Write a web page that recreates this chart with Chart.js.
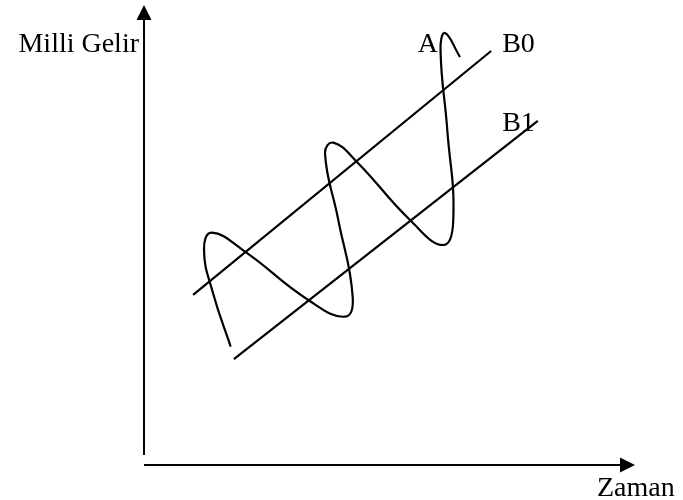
<!DOCTYPE html>
<html>
<head>
<meta charset="utf-8">
<script src="https://cdn.jsdelivr.net/npm/chart.js@4/dist/chart.umd.min.js"></script>
<style>
    html, body { margin: 0; padding: 0; background: #fff; }
    #wrap { width: 683px; height: 500px; position: relative; }
</style>
</head>
<body>
<div id="wrap"><canvas id="cycleChart"></canvas></div>
<script>
// Axis titles and series names
const yTitle = 'Milli Gelir';
const xTitle = 'Zaman';
const seriesNames = ['A', 'B0', 'B1'];

// Trend line B0 (time, income)
const timeB0 = [10.0, 70.7];
const incomeB0 = [37.0, 90.0];

// Trend line B1
const timeB1 = [18.3, 80.2];
const incomeB1 = [23.0, 74.8];

// Cycle curve A, read along the curve from its lower start
const timeA = [17.66, 14.05, 12.22, 13.79, 20.57, 33.46, 40.94, 42.50, 39.57, 36.86,
    38.55, 43.32, 54.18, 60.96, 62.99, 61.77, 60.39, 61.30, 64.36];
const incomeA = [25.72, 37.39, 46.74, 50.50, 46.37, 35.87, 32.24, 36.59, 53.26, 67.76,
    70.07, 65.94, 53.26, 47.83, 53.26, 72.83, 90.22, 93.91, 88.70];

const toPoints = (xs, ys) => xs.map((x, i) => ({ x: x, y: ys[i] }));

// Draws the arrowed axes and the text labels
const diagramPlugin = {
    id: 'diagram',
    afterDatasetsDraw(chart) {
        const ctx = chart.ctx;
        const xs = chart.scales.x;
        const ys = chart.scales.y;
        const x0 = xs.getPixelForValue(0);
        const y0 = ys.getPixelForValue(0);
        const xEnd = xs.getPixelForValue(100);
        const yEnd = ys.getPixelForValue(100);

        ctx.save();
        ctx.strokeStyle = '#000';
        ctx.fillStyle = '#000';
        ctx.lineWidth = 2;

        // y axis
        ctx.beginPath();
        ctx.moveTo(x0, y0 - 10);
        ctx.lineTo(x0, yEnd + 15);
        ctx.stroke();
        ctx.beginPath();
        ctx.moveTo(x0, yEnd);
        ctx.lineTo(x0 - 7.5, yEnd + 15);
        ctx.lineTo(x0 + 7.5, yEnd + 15);
        ctx.closePath();
        ctx.fill();

        // x axis
        ctx.beginPath();
        ctx.moveTo(x0, y0);
        ctx.lineTo(xEnd - 15, y0);
        ctx.stroke();
        ctx.beginPath();
        ctx.moveTo(xEnd, y0);
        ctx.lineTo(xEnd - 15, y0 - 7.5);
        ctx.lineTo(xEnd - 15, y0 + 7.5);
        ctx.closePath();
        ctx.fill();

        // labels
        ctx.font = '28px "Liberation Serif", "Times New Roman", serif';
        ctx.textBaseline = 'alphabetic';

        ctx.textAlign = 'right';
        ctx.fillText(yTitle, x0 - 5, yEnd + 47);

        ctx.textAlign = 'left';
        ctx.fillText(xTitle, xEnd - 38, y0 + 31);

        const b0End = chart.getDatasetMeta(1).data[1];
        const b1End = chart.getDatasetMeta(2).data[1];
        const aTop = chart.getDatasetMeta(0).data[17];

        ctx.textAlign = 'right';
        ctx.fillText(seriesNames[0], aTop.x - 7, b0End.y + 1);
        ctx.textAlign = 'left';
        ctx.fillText(seriesNames[1], b0End.x + 11, b0End.y + 1);
        ctx.fillText(seriesNames[2], b0End.x + 11, b1End.y + 10);

        ctx.restore();
    }
};

const lineStyle = {
    showLine: true,
    borderColor: '#000',
    borderWidth: 2.2,
    pointRadius: 0,
    fill: false,
    clip: false
};

new Chart(document.getElementById('cycleChart'), {
    type: 'scatter',
    data: {
        datasets: [
            Object.assign({ label: seriesNames[0], data: toPoints(timeA, incomeA), tension: 0.45 }, lineStyle),
            Object.assign({ label: seriesNames[1], data: toPoints(timeB0, incomeB0), tension: 0 }, lineStyle),
            Object.assign({ label: seriesNames[2], data: toPoints(timeB1, incomeB1), tension: 0 }, lineStyle)
        ]
    },
    options: {
        responsive: true,
        maintainAspectRatio: false,
        animation: false,
        events: [],
        layout: {
            padding: { left: 144, right: 48, top: 5, bottom: 35 }
        },
        plugins: {
            legend: { display: false },
            tooltip: { enabled: false }
        },
        scales: {
            x: { type: 'linear', min: 0, max: 100, display: false },
            y: { type: 'linear', min: 0, max: 100, display: false }
        }
    },
    plugins: [diagramPlugin]
});
</script>
</body>
</html>
